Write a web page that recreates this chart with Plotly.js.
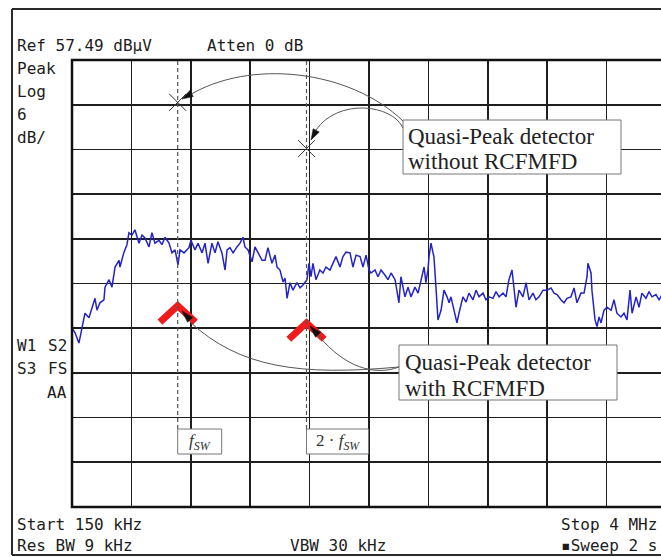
<!DOCTYPE html>
<html>
<head>
<meta charset="utf-8">
<script src="https://cdn.plot.ly/plotly-3.0.1.min.js"></script>
<style>
html,body{margin:0;padding:0;background:#fff;overflow:hidden;}
#chart{width:680px;height:557px;}
</style>
</head>
<body>
<div id="chart"></div>
<script>
// ---- data ----
const startKHz = 150;
const stopKHz = 4000;
const refLevel = 57.49;      // dBuV
const dbPerDiv = 6;

const freqKHz = [150,169,195,215,234,260,280,299,312,331,357,364,390,409,429,455,461,487,506,519,539,558,584,604,623,649,668,688,714,733,753,779,798,818,837,850,876,908,921,947,967,993,1012,1032,1057,1077,1096,1122,1142,1155,1174,1194,1219,1239,1258,1271,1291,1317,1336,1356,1382,1401,1420,1446,1466,1479,1498,1518,1531,1544,1563,1582,1608,1628,1647,1673,1686,1699,1712,1731,1757,1777,1796,1822,1842,1861,1887,1906,1926,1952,1971,1991,2017,2036,2056,2075,2088,2114,2133,2153,2179,2198,2218,2244,2269,2282,2308,2328,2347,2373,2393,2412,2432,2444,2457,2464,2477,2490,2496,2509,2522,2542,2561,2581,2594,2606,2626,2645,2658,2684,2704,2723,2749,2769,2788,2814,2833,2853,2879,2898,2918,2944,2963,2982,3002,3015,3028,3047,3073,3093,3112,3138,3157,3177,3203,3229,3255,3274,3294,3319,3339,3358,3384,3404,3423,3449,3469,3488,3494,3514,3520,3540,3553,3566,3579,3598,3618,3644,3663,3682,3708,3728,3747,3767,3780,3806,3825,3844,3870,3890,3909,3935,3955,3981,4000];
const levelDbuV = [21.5,20.9,19.5,21.7,23.5,22.9,24.3,25.5,23.9,24.9,25.3,27.0,28.0,27.0,29.7,30.6,29.7,31.7,32.7,34.3,34.0,34.7,32.9,34.0,33.6,32.4,34.3,32.9,33.3,32.7,33.7,32.9,31.6,32.0,30.0,32.0,31.6,32.3,33.3,32.0,32.9,31.6,32.9,30.2,32.9,31.6,33.1,31.6,29.3,32.0,32.3,31.6,32.4,32.9,33.7,32.4,32.0,30.4,32.4,31.6,30.6,30.6,32.3,30.2,31.3,29.7,29.3,27.7,28.2,25.5,27.6,26.6,27.6,26.9,27.3,28.0,30.2,28.4,30.2,28.0,29.3,28.9,29.7,29.3,30.2,31.1,29.7,31.1,31.7,31.6,29.7,31.3,31.1,29.7,31.3,29.3,28.9,29.3,28.4,29.3,28.6,28.0,28.9,28.0,24.9,28.4,25.7,27.0,25.7,27.0,26.2,28.0,29.7,27.6,29.3,31.1,32.9,31.6,31.1,27.0,22.6,23.9,26.6,25.7,24.9,25.7,23.9,22.2,23.5,25.7,25.0,26.2,25.3,26.6,25.7,26.2,25.3,25.7,25.5,26.4,25.7,26.2,25.7,28.0,29.3,27.0,24.3,26.6,25.7,27.6,25.3,26.2,25.3,25.7,26.6,26.6,26.9,26.2,26.0,25.3,24.9,25.5,25.7,26.9,24.9,26.2,26.2,28.4,30.2,28.9,26.6,22.6,21.7,23.0,22.2,23.9,24.3,23.9,25.3,23.5,23.0,23.5,22.6,26.6,23.5,25.7,24.3,26.2,25.5,26.4,25.7,26.0,25.3,26.2,25.7];

// switching frequency markers
const markerFreqKHz = [835, 1670];            // f_SW, 2*f_SW
const qpWithoutDbuV = [51.8, 45.6];           // Quasi-Peak without RCFMFD
const qpWithDbuV = [24.5, 22.2];              // Quasi-Peak with RCFMFD

// ---- geometry helpers (layout decorations) ----
const PX0 = 72, PY0 = 60, PW = 594, PH = 447;
const W = 680, H = 557;
function px(x){ return (x - PX0) / PW; }
function py(y){ return (PY0 + PH - y) / PH; }
function cubic(p){
  return 'M ' + px(p[0][0]) + ',' + py(p[0][1]) + ' C ' +
    p.slice(1).map(q => px(q[0]) + ',' + py(q[1])).join(' ');
}
function arrowHead(tx, ty, fx, fy, len, half){
  const dx = tx - fx, dy = ty - fy, d = Math.hypot(dx, dy);
  const ux = dx / d, uy = dy / d;
  const bx = tx - ux * len, by = ty - uy * len;
  const a = [bx - uy * half, by + ux * half], b = [bx + uy * half, by - ux * half];
  return 'M ' + px(tx) + ',' + py(ty) + ' L ' + px(a[0]) + ',' + py(a[1]) + ' L ' + px(b[0]) + ',' + py(b[1]) + ' Z';
}

const traces = [
  {
    x: freqKHz, y: levelDbuV, type: 'scatter', mode: 'lines',
    line: {color: 'rgb(35,35,200)', width: 1.5}, hoverinfo: 'skip'
  },
  {
    x: markerFreqKHz, y: qpWithoutDbuV, type: 'scatter', mode: 'markers',
    marker: {symbol: 'x-thin-open', size: 17, color: '#333', line: {color: '#333', width: 1}}
  }
];
const armK = 115, armDb = 2.2;
markerFreqKHz.forEach((f, i) => {
  traces.push({
    x: [f - armK, f, f + armK], y: [qpWithDbuV[i] - armDb, qpWithDbuV[i], qpWithDbuV[i] - armDb],
    type: 'scatter', mode: 'lines', line: {color: 'rgb(238,28,28)', width: 7}
  });
});

const frameColor = '#2a2a2a';
const shapes = [
  {type:'line', xref:'paper', yref:'paper', x0:px(12), x1:px(12), y0:py(9), y1:py(555), line:{color:frameColor, width:2}},
  {type:'line', xref:'paper', yref:'paper', x0:px(12), x1:px(700), y0:py(9), y1:py(9), line:{color:frameColor, width:2}},
  {type:'line', xref:'paper', yref:'paper', x0:px(12), x1:px(700), y0:py(555), y1:py(555), line:{color:frameColor, width:2}},
  {type:'rect', xref:'paper', yref:'paper', x0:0, x1:1, y0:0, y1:1, line:{color:'#111', width:2.5}, layer:'above'},
];
const boxW = [44, 62];
markerFreqKHz.forEach((f, i) => {
  shapes.push({type:'line', xref:'x', yref:'paper', x0:f, x1:f, y0:py(429), y1:1,
    line:{color:'#555', width:1.2, dash:'4px,3px'}, layer:'above'});
  shapes.push({type:'rect', xref:'x', xsizemode:'pixel', xanchor:f, x0:0, x1:boxW[i],
    yref:'paper', y0:py(454), y1:py(429), fillcolor:'#fff', line:{color:'#777', width:1}, layer:'above'});
});
shapes.push({type:'rect', xref:'paper', yref:'paper', x0:px(403), x1:px(621), y0:py(174), y1:py(120),
  fillcolor:'#fff', line:{color:'#777', width:1}, layer:'above'});
shapes.push({type:'rect', xref:'paper', yref:'paper', x0:px(399), x1:px(617), y0:py(400), y1:py(345),
  fillcolor:'#fff', line:{color:'#777', width:1}, layer:'above'});
const leader = {color:'#555', width:1};
shapes.push({type:'path', xref:'paper', yref:'paper', path:cubic([[403,121],[350,70],[250,58],[188,96]]), line:leader, layer:'above'});
shapes.push({type:'path', xref:'paper', yref:'paper', path:cubic([[403,128],[392,104],[338,98],[316,130]]), line:leader, layer:'above'});
shapes.push({type:'path', xref:'paper', yref:'paper', path:cubic([[190,322],[240,368],[300,376],[399,367]]), line:leader, layer:'above'});
shapes.push({type:'path', xref:'paper', yref:'paper', path:cubic([[318,335],[345,368],[375,376],[399,367]]), line:leader, layer:'above'});
const ah = {color:'#111', width:0.5};
shapes.push({type:'path', xref:'paper', yref:'paper', path:arrowHead(182,99,196,91,11,3.5), fillcolor:'#111', line:ah, layer:'above'});
shapes.push({type:'path', xref:'paper', yref:'paper', path:arrowHead(311,140,318,127,11,3.5), fillcolor:'#111', line:ah, layer:'above'});
shapes.push({type:'path', xref:'paper', yref:'paper', path:arrowHead(182,311,193,323,12,3.5), fillcolor:'#111', line:ah, layer:'above'});
shapes.push({type:'path', xref:'paper', yref:'paper', path:arrowHead(310,326,320,337,12,3.5), fillcolor:'#111', line:ah, layer:'above'});

const mono = {family:'DejaVu Sans Mono', size:16, color:'#1c1c1c'};
const serif = {family:'Liberation Serif, Times New Roman, serif', size:23, color:'#222'};
function lab(text, x, y, font, anchor){
  return {text:text, xref:'paper', yref:'paper', x:px(x), y:py(y), showarrow:false,
    xanchor:anchor || 'left', yanchor:'middle', font:font};
}
const annotations = [
  lab('Ref 57.49 dBµV', 15, 46, mono),
  lab('Atten 0 dB', 205, 46, mono),
  lab('Peak', 15, 68, mono),
  lab('Log', 15, 91, mono),
  lab('6', 15, 114, mono),
  lab('dB/', 15, 137, mono),
  lab('W1', 15, 345, mono),
  lab('S2', 69, 345, mono, 'right'),
  lab('S3', 15, 368, mono),
  lab('FS', 69, 368, mono, 'right'),
  lab('AA', 69, 393, mono, 'right'),
  lab('Start 150 kHz', 15, 524, mono),
  lab('Res BW 9 kHz', 15, 545, mono),
  lab('VBW 30 kHz', 288, 545, mono),
  lab('Stop 4 MHz', 659, 524, mono, 'right'),
  lab('▪Sweep 2 s', 659, 545, mono, 'right'),
  lab('Quasi-Peak detector', 406, 136, serif),
  lab('without RCFMFD', 406, 161, serif),
  lab('Quasi-Peak detector', 403, 362, serif),
  lab('with RCFMFD', 403, 388, serif),
];
const fswLabels = ['<i>f</i><sub><i>SW</i></sub>', '2 · <i>f</i><sub><i>SW</i></sub>'];
markerFreqKHz.forEach((f, i) => {
  annotations.push({text:fswLabels[i], xref:'x', yref:'paper', x:f, xshift:boxW[i]/2, y:py(442),
    showarrow:false, xanchor:'center', yanchor:'middle',
    font:{family:'Liberation Serif, serif', size:17, color:'#333'}});
});

const layout = {
  width: W, height: H,
  margin: {l: PX0, r: W - PX0 - PW, t: PY0, b: H - PY0 - PH, pad: 0},
  paper_bgcolor: '#fff', plot_bgcolor: '#fff',
  showlegend: false,
  xaxis: {range:[startKHz, stopKHz], tick0:startKHz, dtick:(stopKHz - startKHz)/10,
    showgrid:true, gridcolor:'#1e1e1e', gridwidth:1.6, zeroline:false, showticklabels:false,
    ticks:'', showline:false, fixedrange:true},
  yaxis: {range:[refLevel - 10*dbPerDiv, refLevel], tick0:refLevel, dtick:dbPerDiv,
    showgrid:true, gridcolor:'#1e1e1e', gridwidth:1.6, zeroline:false, showticklabels:false,
    ticks:'', showline:false, fixedrange:true},
  shapes: shapes,
  annotations: annotations
};
Plotly.newPlot('chart', traces, layout, {displayModeBar:false, staticPlot:true});
</script>
</body>
</html>
